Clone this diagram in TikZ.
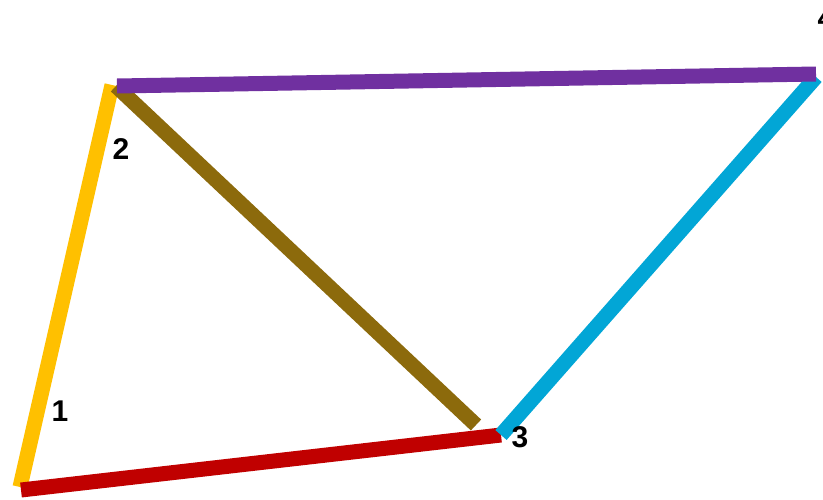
\documentclass[tikz,border=0pt]{standalone}
\usepackage{fontspec}
\setmainfont{Liberation Sans}
\definecolor{cyellow}{HTML}{FFC000}
\definecolor{cred}{HTML}{C00000}
\definecolor{cpurple}{HTML}{7030A0}
\definecolor{cbrown}{HTML}{8C6A0C}
\definecolor{ccyan}{HTML}{02A6D6}
\begin{document}
\begin{tikzpicture}[x=1pt,y=-1pt,
  bar/.style={line width=15pt,line cap=butt},
  lbl/.style={font=\fontsize{30}{30}\selectfont\bfseries,inner sep=0pt,text=black}]
\useasboundingbox (0,0) rectangle (823,499);
% end points
\coordinate (ya) at (20,487);
\coordinate (yb) at (112,85);
\coordinate (ra) at (21,490);
\coordinate (rb) at (501,435);
\coordinate (pa) at (117,86);
\coordinate (pb) at (816,74);
\coordinate (ba) at (116,86);
\coordinate (bb) at (476,425);
\coordinate (ca) at (501,435);
\coordinate (cb) at (816,77);
% bars
\draw[bar,cyellow] (ya) -- (yb);
\draw[bar,cbrown] (ba) -- (bb);
\draw[bar,cred] (ra) -- (rb);
\draw[bar,ccyan] (ca) -- (cb);
\draw[bar,cpurple] (pa) -- (pb);
% labels
\node[lbl] (l1) at (60,411) {1};
\node[lbl] (l2) at (121,149) {2};
\node[lbl] (l3) at (520,437) {3};
\node[lbl] (l4) at (826,18) {4};
\end{tikzpicture}
\end{document}
